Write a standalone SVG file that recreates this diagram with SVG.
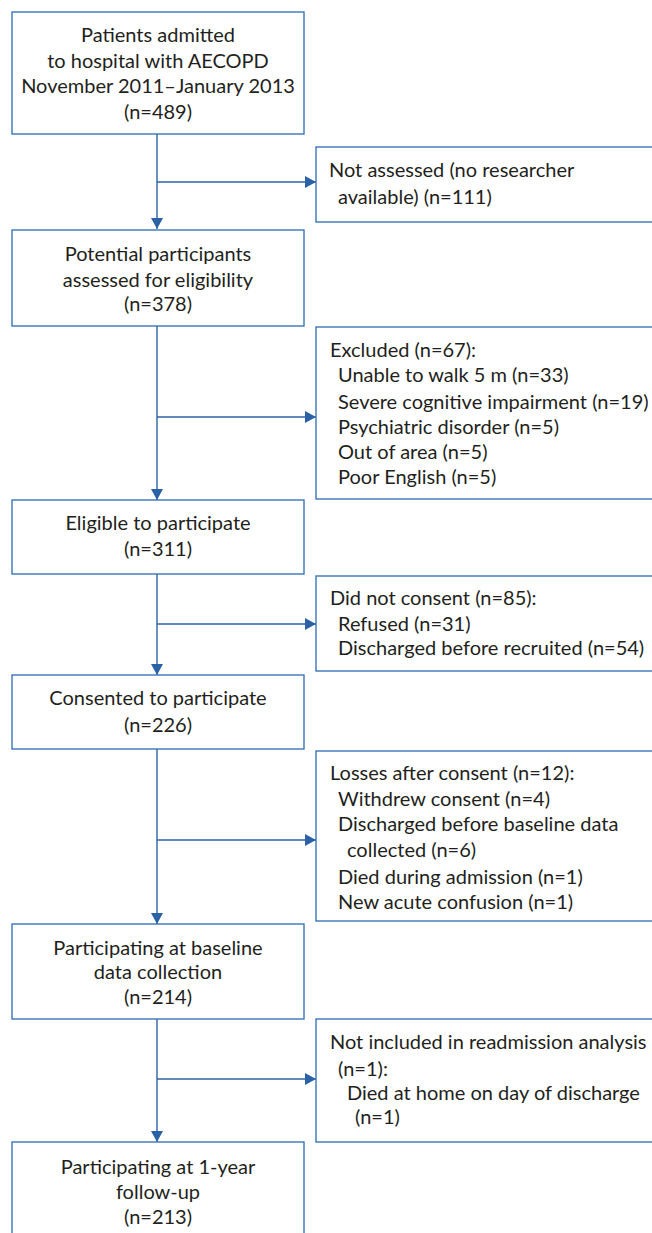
<svg xmlns="http://www.w3.org/2000/svg" width="652" height="1233" viewBox="0 0 652 1233">
<style>
.box{fill:#fff;stroke:#3a76b8;stroke-width:1.4}
.ln{stroke:#2b62a6;stroke-width:1.4;fill:none}
text{font-family:Lato,"Noto Sans",sans-serif;font-size:20px;fill:#231f20}
.c{text-anchor:middle}
</style>
<defs>
<marker id="ad" markerWidth="12" markerHeight="11" refX="6" refY="11" orient="0" markerUnits="userSpaceOnUse"><path d="M0,0 L12,0 L6,11 Z" fill="#2b62a6"/></marker>
<marker id="ar" markerWidth="11" markerHeight="12" refX="11" refY="6" orient="0" markerUnits="userSpaceOnUse"><path d="M0,0 L11,6 L0,12 Z" fill="#2b62a6"/></marker>
</defs>
<rect width="652" height="1233" fill="#fff"/>
<g id="connectors">
<line class="ln" x1="157" y1="134" x2="157" y2="229" marker-end="url(#ad)"/>
<line class="ln" x1="157" y1="182" x2="316" y2="182" marker-end="url(#ar)"/>
<line class="ln" x1="157" y1="326" x2="157" y2="500" marker-end="url(#ad)"/>
<line class="ln" x1="157" y1="417" x2="316" y2="417" marker-end="url(#ar)"/>
<line class="ln" x1="157" y1="574" x2="157" y2="675" marker-end="url(#ad)"/>
<line class="ln" x1="157" y1="624" x2="316" y2="624" marker-end="url(#ar)"/>
<line class="ln" x1="157" y1="749" x2="157" y2="924" marker-end="url(#ad)"/>
<line class="ln" x1="157" y1="840" x2="316" y2="840" marker-end="url(#ar)"/>
<line class="ln" x1="157" y1="1019" x2="157" y2="1142" marker-end="url(#ad)"/>
<line class="ln" x1="157" y1="1079" x2="316" y2="1079" marker-end="url(#ar)"/>
</g>
<g id="n1"><rect class="box" x="12" y="12" width="292" height="122"/>
<text class="c" x="158" y="42">Patients admitted</text>
<text class="c" x="158" y="68">to hospital with AECOPD</text>
<text class="c" x="158" y="93">November 2011–January 2013</text>
<text class="c" x="158" y="119">(n=489)</text></g>
<g id="r1"><rect class="box" x="316" y="147" width="350" height="75"/>
<text x="329" y="177">Not assessed (no researcher</text>
<text x="338" y="204">available) (n=111)</text></g>
<g id="n2"><rect class="box" x="12" y="230" width="292" height="96"/>
<text class="c" x="158" y="261">Potential participants</text>
<text class="c" x="158" y="287">assessed for eligibility</text>
<text class="c" x="158" y="311">(n=378)</text></g>
<g id="r2"><rect class="box" x="316" y="327" width="350" height="172"/>
<text x="330" y="357">Excluded (n=67):</text>
<text x="338" y="382">Unable to walk 5 m (n=33)</text>
<text x="338" y="409">Severe cognitive impairment (n=19)</text>
<text x="338" y="434">Psychiatric disorder (n=5)</text>
<text x="338" y="459">Out of area (n=5)</text>
<text x="338" y="484">Poor English (n=5)</text></g>
<g id="n3"><rect class="box" x="12" y="500" width="292" height="74"/>
<text class="c" x="158" y="530">Eligible to participate</text>
<text class="c" x="158" y="556">(n=311)</text></g>
<g id="r3"><rect class="box" x="316" y="576" width="350" height="95"/>
<text x="330" y="605">Did not consent (n=85):</text>
<text x="338" y="631">Refused (n=31)</text>
<text x="338" y="655">Discharged before recruited (n=54)</text></g>
<g id="n4"><rect class="box" x="12" y="675" width="292" height="74"/>
<text class="c" x="158" y="705">Consented to participate</text>
<text class="c" x="158" y="732">(n=226)</text></g>
<g id="r4"><rect class="box" x="316" y="751" width="350" height="170"/>
<text x="330" y="780">Losses after consent (n=12):</text>
<text x="338" y="806">Withdrew consent (n=4)</text>
<text x="338" y="831">Discharged before baseline data</text>
<text x="347" y="857">collected (n=6)</text>
<text x="338" y="884">Died during admission (n=1)</text>
<text x="338" y="909">New acute confusion (n=1)</text></g>
<g id="n5"><rect class="box" x="12" y="924" width="292" height="95"/>
<text class="c" x="158" y="955">Participating at baseline</text>
<text class="c" x="158" y="979">data collection</text>
<text class="c" x="158" y="1004">(n=214)</text></g>
<g id="r5"><rect class="box" x="316" y="1019" width="350" height="123"/>
<text x="330" y="1049">Not included in readmission analysis</text>
<text x="338" y="1076">(n=1):</text>
<text x="347" y="1100">Died at home on day of discharge</text>
<text x="355" y="1124">(n=1)</text></g>
<g id="n6"><rect class="box" x="12" y="1142" width="292" height="110"/>
<text class="c" x="158" y="1174">Participating at 1-year</text>
<text class="c" x="158" y="1199">follow-up</text>
<text class="c" x="158" y="1224">(n=213)</text></g>
</svg>
